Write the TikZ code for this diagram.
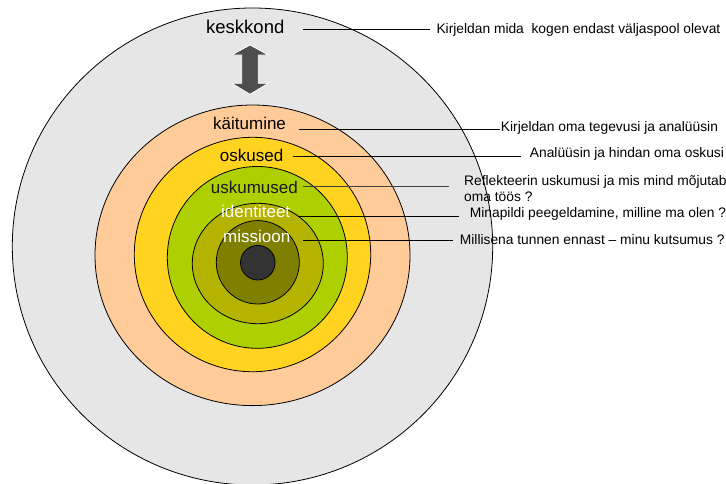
\documentclass[tikz,border=0pt]{standalone}
\usepackage{fontspec}
\setmainfont{Liberation Sans}
\definecolor{ringgray}{HTML}{E6E6E6}
\definecolor{ringpeach}{HTML}{FFCC99}
\definecolor{ringyellow}{HTML}{FFD320}
\definecolor{ringgreen}{HTML}{AECF00}
\definecolor{ringolive}{HTML}{B4B400}
\definecolor{ringdark}{HTML}{808000}
\definecolor{corecol}{HTML}{333333}
\definecolor{arrowcol}{HTML}{4D4D4D}
\begin{document}
\begin{tikzpicture}[x=1pt,y=-1pt,
  ring/.style={draw=black,line width=0.8pt},
  lbl/.style={anchor=base west,inner sep=0pt,font=\fontsize{17}{20}\selectfont},
  note/.style={anchor=base west,inner sep=0pt,font=\fontsize{13.8}{16}\selectfont},
  leader/.style={draw=black,line width=1pt}]
\useasboundingbox (0,0) rectangle (726,483);
\begin{scope}
\clip (0,0) rectangle (726,483);
% rings
\path[ring,fill=ringgray]   (252.5,246.5) ellipse [x radius=240.2pt, y radius=238.5pt];
\path[ring,fill=ringpeach]  (252.5,255.3) ellipse [x radius=157.5pt, y radius=150.3pt];
\path[ring,fill=ringyellow] (252.5,254.5) ellipse [x radius=118.2pt, y radius=117.2pt];
\path[ring,fill=ringgreen]  (257.3,257.4) ellipse [x radius=90pt, y radius=90.9pt];
\path[ring,fill=ringolive]  (257.8,263.5) ellipse [x radius=65.5pt, y radius=60.2pt];
\path[ring,fill=ringdark]   (257.8,262.3) ellipse [x radius=41.5pt, y radius=41.7pt];
\path[ring,fill=corecol]    (257.8,262.7) circle [radius=17.3pt];
\end{scope}
% double arrow
\path[fill=arrowcol,draw=white,line width=0.8pt]
  (250,45) -- (268.3,55) -- (258.3,55) -- (258.3,83.3) -- (268.3,83.3) -- (250,94.3)
  -- (231.7,83.3) -- (241.7,83.3) -- (241.7,55) -- (231.7,55) -- cycle;
% labels
\node[lbl,font=\fontsize{18.5}{22}\selectfont] (keskkond) at (206,33.3) {keskkond};
\node[lbl] (kaitumine) at (213,129.3) {käitumine};
\node[lbl] (oskused) at (219.7,161) {oskused};
\node[lbl,text=black!90] (uskumused) at (210.7,193.3) {uskumused};
\node[lbl,text=white] (identiteet) at (221,217.3) {identiteet};
\node[lbl,text=white] (missioon) at (223,242.7) {missioon};
% notes
\node[note] (n1) at (436.3,33.4) {Kirjeldan mida\ \ kogen endast väljaspool olevat};
\node[note] (n2) at (500.7,131.7) {Kirjeldan oma tegevusi ja analüüsin};
\node[note] (n3) at (529.7,157.8) {Analüüsin ja hindan oma oskusi};
\node[note] (n4) at (464,185.2) {Reflekteerin uskumusi ja mis mind mõjutab};
\node[note] (n4b) at (464,201) {oma töös ?};
\node[note] (n5) at (469.7,217.6) {Minapildi peegeldamine, milline ma olen ?};
\node[note] (n6) at (459.7,244.3) {Millisena tunnen ennast – minu kutsumus ?};
% leader end points
\coordinate (a1) at (303.3,29);   \coordinate (b1) at (430,29);
\coordinate (a2) at (299.3,129.5);\coordinate (b2) at (500,129.5);
\coordinate (a3) at (293.3,156.7);\coordinate (b3) at (521,156.7);
\coordinate (a4) at (303.3,186.7);\coordinate (b4) at (449,186.7);
\coordinate (a5) at (298.3,216.3);\coordinate (b5) at (459,216.3);
\coordinate (a6) at (303.3,240);  \coordinate (b6) at (453.3,240);
\draw[leader] (a1) -- (b1);
\draw[leader] (a2) -- (b2);
\draw[leader] (a3) -- (b3);
\draw[leader,draw=black!75,line width=1.3pt] (a4) -- (b4);
\draw[leader] (a5) -- (b5);
\draw[leader] (a6) -- (b6);
\end{tikzpicture}
\end{document}
